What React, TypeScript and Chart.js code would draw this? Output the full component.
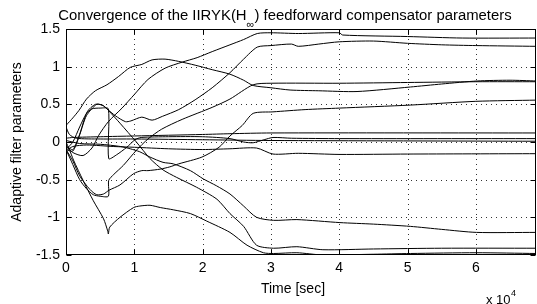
import React, { useEffect, useRef } from "react";
import { Chart, registerables } from "chart.js";

Chart.register(...registerables);

const FONT = '"Liberation Sans", Arial, Helvetica, sans-serif';

// axis definitions
const X_MAX = 68800;
const xTickValues = [0, 10000, 20000, 30000, 40000, 50000, 60000];
const yTickValues = [-1.5, -1, -0.5, 0, 0.5, 1, 1.5];

// texts
const titlePre = "Convergence of the IIRYK(H";
const titleSub = "\u221E";
const titlePost = ") feedforward compensator parameters";
const yLabelText = "Adaptive filter parameters";
const xLabelText = "Time [sec]";
const xExpBase = "x 10";
const xExpPow = "4";

// parameter trajectories: [time (s), value]
const p1: number[][] = [
  [0, -0.05], [1000, -0.14], [2500, -0.18], [3800, -0.08], [4800, 0.09], [6200, 0.27], [8200, 0.45],
  [10000, 0.63], [12000, 0.83], [14500, 0.98], [17000, 1.06], [19200, 1.12], [21400, 1.2], [24000, 1.29],
  [26000, 1.36], [28000, 1.44], [30000, 1.45], [34000, 1.44], [40000, 1.45], [40500, 1.42], [50000, 1.4],
  [58000, 1.38], [68800, 1.38],
];
const p2: number[][] = [
  [0, 0.22], [1000, 0.32], [1900, 0.42], [3000, 0.57], [4300, 0.68], [6000, 0.76], [7700, 0.87],
  [9400, 0.99], [11100, 1.03], [12600, 1.09], [14500, 1.1], [16500, 1.07], [18900, 1.02], [21400, 0.96],
  [24000, 0.9], [26000, 0.82], [27400, 0.75], [30000, 0.72], [32800, 0.69], [37000, 0.68], [42600, 0.67],
  [50400, 0.73], [55000, 0.77], [60200, 0.81], [65000, 0.82], [68800, 0.81],
];
const p3: number[][] = [
  [0, -0.1], [1000, -0.12], [1900, 0.07], [3100, 0.4], [4300, 0.5], [5300, 0.49], [6000, 0.44],
  [7200, 0.35], [8700, 0.27], [9500, 0.28], [11100, 0.33], [12600, 0.29], [14100, 0.34], [16500, 0.43],
  [18900, 0.56], [21400, 0.72], [24000, 0.92], [26000, 1.1], [28000, 1.26], [30000, 1.28], [33000, 1.3],
  [34000, 1.27], [37000, 1.3], [40000, 1.33], [45000, 1.34], [50000, 1.31], [55000, 1.29], [60000, 1.28],
  [68800, 1.27],
];
const p4: number[][] = [
  [0, -0.05], [1000, -0.1], [2000, 0.1], [3000, 0.35], [4500, 0.5], [5500, 0.48], [6200, 0.42],
  [7900, 0.25], [10300, 0.0], [12300, -0.22], [14200, -0.37], [16200, -0.47], [19100, -0.6],
  [22100, -0.76], [24000, -0.95], [26000, -1.12], [27900, -1.37], [30400, -1.41], [33800, -1.39],
  [37600, -1.43], [45000, -1.42], [55000, -1.41], [68800, -1.41],
];
const p5: number[][] = [
  [0, -0.1], [1000, 0.0], [2000, 0.2], [3000, 0.38], [3800, 0.44], [5000, 0.45], [6200, 0.44],
  [6250, -0.22], [7400, -0.17], [8900, -0.07], [10100, 0.03], [11000, 0.06], [15000, 0.07],
  [20000, 0.07], [24000, 0.045], [26000, 0.0], [27400, -0.01], [29000, 0.03], [30300, 0.06],
  [33000, 0.05], [40000, 0.045], [68800, 0.045],
];
const p6: number[][] = [
  [0, -0.1], [1000, -0.3], [2000, -0.5], [3000, -0.62], [4000, -0.7], [5000, -0.72], [6200, -0.72],
  [6250, -0.51], [7000, -0.43], [8400, -0.31], [10300, -0.11], [12000, 0.04], [14000, 0.17],
  [17000, 0.3], [21400, 0.46], [24000, 0.57], [27400, 0.76], [30000, 0.78], [40000, 0.78],
  [50000, 0.79], [60000, 0.8], [68800, 0.8],
];
const p7: number[][] = [
  [0, -0.1], [1000, -0.25], [2000, -0.45], [3500, -0.63], [4500, -0.7], [5500, -0.69], [6300, -0.64],
  [7900, -0.57], [9900, -0.42], [11100, -0.38], [12000, -0.38], [13800, -0.36], [15200, -0.33],
  [16500, -0.29], [19900, -0.2], [22400, -0.07], [24000, 0.08], [25800, 0.22], [27400, 0.38],
  [30300, 0.4], [35000, 0.43], [40000, 0.45], [50400, 0.49], [60000, 0.54], [68800, 0.556],
];
const p8: number[][] = [
  [0, 0.02], [2000, -0.02], [5000, -0.03], [8000, -0.06], [9400, -0.09], [10800, -0.13], [12300, -0.2],
  [14200, -0.27], [15700, -0.29], [18200, -0.38], [20100, -0.49], [22000, -0.58], [24000, -0.69],
  [26000, -0.85], [27900, -1.0], [30400, -1.04], [33800, -1.03], [40100, -1.07], [45000, -1.09],
  [50400, -1.12], [55000, -1.16], [60100, -1.2], [68800, -1.2],
];
const p9: number[][] = [
  [0, 0.0], [500, -0.1], [1100, -0.24], [2500, -0.51], [4000, -0.78], [5500, -1.02], [6100, -1.18],
  [6200, -1.22], [6400, -1.13], [7900, -1.0], [9900, -0.87], [10800, -0.85], [12300, -0.84],
  [13800, -0.87], [15700, -0.9], [18200, -0.95], [20600, -1.05], [24000, -1.2], [26500, -1.37],
  [28900, -1.47], [30400, -1.48], [33800, -1.47], [37600, -1.5], [45000, -1.49], [50400, -1.48],
  [60100, -1.47], [68800, -1.48],
];
const p10: number[][] = [
  [0, 0.05], [1000, 0.06], [5000, 0.07], [10000, 0.08], [20000, 0.1], [24000, 0.11], [30000, 0.12],
  [68800, 0.12],
];
const p11: number[][] = [
  [0, 0.2], [500, 0.1], [1500, 0.05], [5000, 0.04], [10000, 0.04], [20000, 0.03], [30000, 0.02],
  [68800, 0.01],
];
const p12: number[][] = [
  [0, -0.12], [1000, -0.06], [3000, -0.04], [7000, -0.06], [10000, -0.07], [15000, -0.09],
  [20000, -0.1], [24000, -0.09], [27900, -0.08], [30300, -0.16], [34000, -0.15], [40000, -0.165],
  [50000, -0.16], [68800, -0.155],
];

const allSeries = [p1, p2, p3, p4, p5, p6, p7, p8, p9, p10, p11, p12];

const overlayPlugin = {
  id: "matlabOverlay",
  beforeDatasetsDraw(chart: any) {
    const { ctx, chartArea: a, scales } = chart;
    const x = scales.x;
    const y = scales.y;
    ctx.save();
    ctx.strokeStyle = "#333";
    ctx.lineWidth = 1;
    ctx.setLineDash([1, 4]);
    for (const t of xTickValues) {
      if (t <= 0 || t >= X_MAX) continue;
      const px = Math.round(x.getPixelForValue(t)) + 0.5;
      ctx.beginPath();
      ctx.moveTo(px, a.top);
      ctx.lineTo(px, a.bottom);
      ctx.stroke();
    }
    for (const v of yTickValues) {
      if (v <= -1.5 || v >= 1.5) continue;
      const py = Math.round(y.getPixelForValue(v)) + 0.5;
      ctx.beginPath();
      ctx.moveTo(a.left, py);
      ctx.lineTo(a.right, py);
      ctx.stroke();
    }
    ctx.restore();
  },
  afterDatasetsDraw(chart: any) {
    const { ctx, chartArea: a, scales } = chart;
    const x = scales.x;
    const y = scales.y;
    ctx.save();
    ctx.strokeStyle = "#000";
    ctx.lineWidth = 1;
    ctx.setLineDash([]);
    const L = a.left + 0.5;
    const R = a.right - 0.5;
    const T = a.top + 0.5;
    const B = a.bottom - 0.5;
    ctx.strokeRect(L, T, R - L, B - T);
    const tl = 5;
    for (const t of xTickValues) {
      const px = Math.round(x.getPixelForValue(t)) + 0.5;
      ctx.beginPath();
      ctx.moveTo(px, B);
      ctx.lineTo(px, B - tl);
      ctx.moveTo(px, T);
      ctx.lineTo(px, T + tl);
      ctx.stroke();
    }
    for (const v of yTickValues) {
      const py = Math.round(y.getPixelForValue(v)) + 0.5;
      ctx.beginPath();
      ctx.moveTo(L, py);
      ctx.lineTo(L + tl, py);
      ctx.moveTo(R, py);
      ctx.lineTo(R - tl, py);
      ctx.stroke();
    }

    // title with subscript, fitted to the reference span
    ctx.fillStyle = "#000";
    ctx.textBaseline = "alphabetic";
    ctx.textAlign = "left";
    const targetW = 454;
    const measure = (fs: number) => {
      ctx.font = `${fs}px ${FONT}`;
      const a1 = ctx.measureText(titlePre).width;
      const a3 = ctx.measureText(titlePost).width;
      ctx.font = `${fs * 0.75}px ${FONT}`;
      const a2 = ctx.measureText(titleSub).width;
      return [a1, a2, a3];
    };
    const m14 = measure(14);
    const fs = (14 * targetW) / (m14[0] + m14[1] + m14[2]);
    const [wPre, wSub, wPost] = measure(fs);
    let tx = 285 - (wPre + wSub + wPost) / 2;
    const baseY = 20;
    ctx.font = `${fs}px ${FONT}`;
    ctx.fillText(titlePre, tx, baseY);
    tx += wPre;
    ctx.font = `${fs * 0.75}px ${FONT}`;
    ctx.fillText(titleSub, tx, baseY + 8);
    tx += wSub;
    ctx.font = `${fs}px ${FONT}`;
    ctx.fillText(titlePost, tx, baseY);

    // y label
    ctx.save();
    ctx.translate(17, 142);
    ctx.rotate(-Math.PI / 2);
    ctx.textAlign = "center";
    ctx.textBaseline = "middle";
    ctx.font = `14px ${FONT}`;
    ctx.fillText(yLabelText, 0, 0);
    ctx.restore();

    // x label
    ctx.textAlign = "center";
    ctx.textBaseline = "middle";
    ctx.font = `14px ${FONT}`;
    ctx.fillText(xLabelText, 293, 289);

    // exponent
    ctx.textAlign = "left";
    ctx.textBaseline = "alphabetic";
    ctx.font = `13px ${FONT}`;
    ctx.fillText(xExpBase, 486, 304);
    const wb = ctx.measureText(xExpBase).width;
    ctx.font = `9px ${FONT}`;
    ctx.fillText(xExpPow, 486 + wb + 0.5, 296);
    ctx.restore();
  },
};

export default function App() {
  const canvasRef = useRef<HTMLCanvasElement | null>(null);

  useEffect(() => {
    document.body.style.margin = "0";
    const canvas = canvasRef.current;
    if (!canvas) return;
    const datasets = allSeries.map((s, i) => ({
      label: `p${i + 1}`,
      data: s.map(([t, v]) => ({ x: t, y: v })),
      borderColor: "#000",
      backgroundColor: "#000",
      borderWidth: 1,
      pointRadius: 0,
      tension: 0.25,
      fill: false,
    }));
    const chart = new Chart(canvas, {
      type: "line",
      data: { datasets },
      plugins: [overlayPlugin],
      options: {
        animation: false,
        responsive: false,
        devicePixelRatio: 1,
        layout: { padding: { top: 29, right: 1, left: 0, bottom: 0 } },
        plugins: {
          legend: { display: false },
          title: { display: false },
          tooltip: { enabled: false },
        },
        scales: {
          x: {
            type: "linear",
            min: 0,
            max: X_MAX,
            afterFit: (s: any) => {
              s.height = 49;
            },
            afterBuildTicks: (s: any) => {
              s.ticks = xTickValues.map((v) => ({ value: v }));
            },
            grid: { display: false, drawTicks: false },
            border: { display: false },
            ticks: {
              autoSkip: false,
              maxRotation: 0,
              padding: 5,
              color: "#000",
              font: { family: FONT, size: 14 },
              callback: (v: any) => String(Number(v) / 10000),
            },
          },
          y: {
            type: "linear",
            min: -1.5,
            max: 1.5,
            afterFit: (s: any) => {
              s.width = 66;
            },
            afterBuildTicks: (s: any) => {
              s.ticks = yTickValues.map((v) => ({ value: v }));
            },
            grid: { display: false, drawTicks: false },
            border: { display: false },
            ticks: {
              autoSkip: false,
              padding: 6,
              color: "#000",
              font: { family: FONT, size: 14 },
              callback: (v: any) => String(v),
            },
          },
        },
      },
    });
    return () => chart.destroy();
  }, []);

  return (
    <div style={{ position: "absolute", left: 0, top: 0, width: 537, height: 304, background: "#fff" }}>
      <canvas ref={canvasRef} width={537} height={304} style={{ display: "block" }} />
    </div>
  );
}
